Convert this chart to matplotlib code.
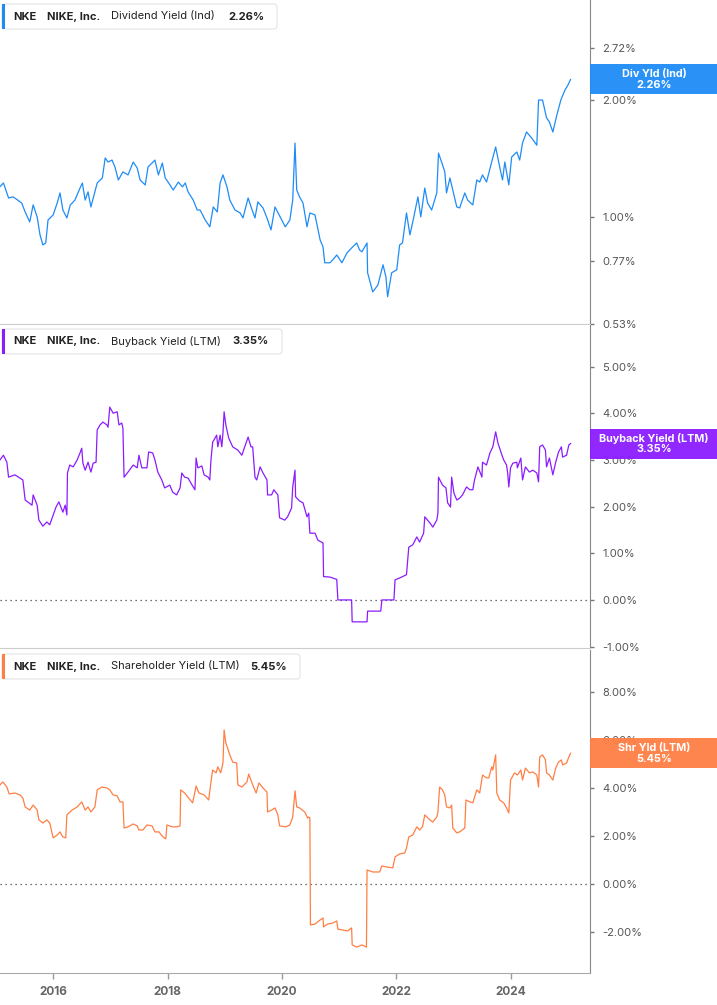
import matplotlib.pyplot as plt
import matplotlib.transforms as mtransforms
from matplotlib.patches import FancyBboxPatch, Rectangle
from matplotlib.ticker import FixedLocator, NullLocator, FuncFormatter

plt.rcParams['font.family'] = ['Inter', 'DejaVu Sans']

# ---- data (decimal year, yield in %) ----
div_dates = [2015.07, 2015.13, 2015.19, 2015.22, 2015.30, 2015.38, 2015.45, 2015.51, 2015.59, 2015.65,
             2015.72, 2015.77, 2015.82, 2015.87, 2015.91, 2016.00, 2016.07, 2016.12, 2016.17, 2016.24,
             2016.30, 2016.38, 2016.47, 2016.51, 2016.56, 2016.61, 2016.66, 2016.73, 2016.77, 2016.86,
             2016.91, 2016.96, 2017.03, 2017.08, 2017.14, 2017.22, 2017.31, 2017.40, 2017.47, 2017.52,
             2017.61, 2017.66, 2017.78, 2017.84, 2017.91, 2017.96, 2018.01, 2018.10, 2018.19, 2018.26,
             2018.31, 2018.36, 2018.45, 2018.52, 2018.57, 2018.66, 2018.74, 2018.80, 2018.87, 2018.92,
             2018.97, 2019.04, 2019.09, 2019.18, 2019.27, 2019.32, 2019.41, 2019.48, 2019.53, 2019.58,
             2019.67, 2019.74, 2019.81, 2019.88, 2019.97, 2020.06, 2020.14, 2020.19, 2020.23, 2020.26,
             2020.31, 2020.37, 2020.44, 2020.49, 2020.58, 2020.67, 2020.72, 2020.75, 2020.84, 2020.89,
             2020.96, 2021.05, 2021.14, 2021.22, 2021.31, 2021.36, 2021.40, 2021.49, 2021.50, 2021.59,
             2021.68, 2021.77, 2021.82, 2021.85, 2021.92, 2022.01, 2022.06, 2022.11, 2022.18, 2022.24,
             2022.29, 2022.38, 2022.43, 2022.50, 2022.55, 2022.62, 2022.71, 2022.74, 2022.80, 2022.85,
             2022.88, 2022.94, 2022.99, 2023.06, 2023.11, 2023.20, 2023.25, 2023.34, 2023.41, 2023.46,
             2023.51, 2023.58, 2023.67, 2023.74, 2023.81, 2023.86, 2023.90, 2023.97, 2024.02, 2024.11,
             2024.16, 2024.21, 2024.28, 2024.37, 2024.46, 2024.49, 2024.56, 2024.63, 2024.68, 2024.74,
             2024.81, 2024.88, 2024.95, 2025.00, 2025.05]
div_yld = [1.197, 1.223, 1.153, 1.119, 1.126, 1.105, 1.086, 1.030, 0.971, 1.074,
           1.000, 0.899, 0.847, 0.857, 0.982, 1.012, 1.086, 1.153, 1.042, 0.994,
           1.074, 1.105, 1.187, 1.223, 1.105, 1.160, 1.061, 1.160, 1.223, 1.260,
           1.419, 1.385, 1.401, 1.345, 1.245, 1.306, 1.283, 1.385, 1.337, 1.245,
           1.209, 1.345, 1.401, 1.283, 1.377, 1.260, 1.230, 1.173, 1.230, 1.195,
           1.223, 1.160, 1.105, 1.042, 1.042, 0.982, 0.943, 1.061, 1.030, 1.223,
           1.283, 1.195, 1.105, 1.042, 1.024, 0.994, 1.119, 1.042, 0.994, 1.093,
           1.055, 0.994, 0.926, 1.061, 1.000, 0.943, 0.982, 1.105, 1.550, 1.173,
           1.126, 1.086, 0.943, 1.024, 1.012, 0.872, 0.837, 0.762, 0.762, 0.775,
           0.798, 0.762, 0.808, 0.832, 0.857, 0.822, 0.813, 0.857, 0.718, 0.641,
           0.668, 0.753, 0.701, 0.623, 0.718, 0.731, 0.847, 0.857, 1.024, 0.899,
           0.971, 1.126, 1.000, 1.187, 1.086, 1.042, 1.153, 1.460, 1.377, 1.306,
           1.153, 1.260, 1.173, 1.061, 1.055, 1.153, 1.105, 1.074, 1.245, 1.230,
           1.283, 1.230, 1.385, 1.514, 1.345, 1.245, 1.385, 1.209, 1.427, 1.470,
           1.401, 1.550, 1.655, 1.597, 1.530, 2.000, 2.000, 1.800, 1.756, 1.655,
           1.830, 2.000, 2.120, 2.180, 2.260]

bb_dates = [2015.07, 2015.13, 2015.19, 2015.22, 2015.33, 2015.42, 2015.47, 2015.51, 2015.63, 2015.65,
            2015.72, 2015.75, 2015.82, 2015.89, 2015.94, 2016.00, 2016.05, 2016.10, 2016.17, 2016.21,
            2016.24, 2016.25, 2016.29, 2016.35, 2016.42, 2016.47, 2016.50, 2016.52, 2016.56, 2016.61,
            2016.66, 2016.70, 2016.75, 2016.77, 2016.82, 2016.87, 2016.94, 2016.96, 2016.99, 2017.05,
            2017.12, 2017.15, 2017.20, 2017.22, 2017.24, 2017.31, 2017.40, 2017.47, 2017.50, 2017.55,
            2017.64, 2017.67, 2017.74, 2017.78, 2017.83, 2017.90, 2017.95, 2018.04, 2018.09, 2018.16,
            2018.22, 2018.25, 2018.30, 2018.36, 2018.43, 2018.48, 2018.50, 2018.53, 2018.60, 2018.64,
            2018.71, 2018.74, 2018.76, 2018.79, 2018.86, 2018.88, 2018.92, 2018.95, 2018.97, 2018.99,
            2019.02, 2019.07, 2019.14, 2019.23, 2019.30, 2019.35, 2019.41, 2019.46, 2019.49, 2019.53,
            2019.56, 2019.62, 2019.67, 2019.74, 2019.75, 2019.82, 2019.86, 2019.93, 2019.96, 2020.05,
            2020.10, 2020.17, 2020.19, 2020.23, 2020.24, 2020.31, 2020.37, 2020.44, 2020.47, 2020.49,
            2020.58, 2020.63, 2020.72, 2020.73, 2020.84, 2020.96, 2020.98, 2021.22, 2021.23, 2021.49,
            2021.50, 2021.73, 2021.75, 2021.96, 2021.98, 2022.06, 2022.18, 2022.22, 2022.29, 2022.36,
            2022.41, 2022.48, 2022.50, 2022.59, 2022.64, 2022.71, 2022.73, 2022.74, 2022.81, 2022.87,
            2022.90, 2022.95, 2022.97, 2023.01, 2023.06, 2023.11, 2023.16, 2023.23, 2023.29, 2023.34,
            2023.37, 2023.43, 2023.50, 2023.51, 2023.58, 2023.64, 2023.69, 2023.74, 2023.78, 2023.85,
            2023.88, 2023.93, 2023.95, 2023.97, 2024.00, 2024.04, 2024.11, 2024.12, 2024.18, 2024.21,
            2024.26, 2024.33, 2024.39, 2024.46, 2024.49, 2024.51, 2024.56, 2024.61, 2024.63, 2024.68,
            2024.74, 2024.79, 2024.84, 2024.89, 2024.91, 2024.98, 2025.02, 2025.05]
bb_yld = [3.00, 3.10, 2.95, 2.63, 2.68, 2.61, 2.57, 2.14, 2.03, 2.25,
          2.03, 1.71, 1.58, 1.67, 1.61, 1.82, 1.99, 2.10, 1.88, 2.03,
          1.82, 2.72, 2.89, 2.85, 3.00, 3.15, 3.25, 2.93, 2.78, 2.95,
          2.74, 2.93, 2.95, 3.64, 3.75, 3.81, 3.75, 3.70, 4.13, 4.00,
          4.03, 3.75, 3.79, 3.68, 2.63, 2.74, 2.89, 2.83, 3.10, 2.83,
          2.83, 3.17, 3.15, 3.00, 2.74, 2.57, 2.40, 2.46, 2.31, 2.25,
          2.40, 2.72, 2.63, 2.61, 2.46, 2.36, 3.04, 2.83, 2.87, 2.68,
          2.63, 2.57, 3.00, 3.38, 3.53, 3.28, 3.53, 3.28, 3.58, 4.03,
          3.75, 3.47, 3.28, 3.21, 3.10, 3.28, 3.49, 3.28, 3.28, 2.63,
          2.57, 2.85, 2.72, 2.57, 2.25, 2.25, 2.36, 2.25, 1.76, 1.71,
          1.78, 1.97, 2.42, 2.78, 2.21, 2.12, 2.08, 1.78, 1.86, 1.43,
          1.43, 1.28, 1.22, 0.50, 0.49, 0.44, 0.00, 0.00, -0.47, -0.47,
          -0.24, -0.24, 0.00, 0.00, 0.43, 0.47, 0.54, 1.13, 1.18, 1.35,
          1.24, 1.43, 1.78, 1.65, 1.56, 1.71, 1.86, 2.63, 2.46, 2.40,
          2.08, 1.99, 2.63, 2.29, 2.14, 2.18, 2.25, 2.42, 2.36, 2.36,
          2.57, 2.85, 2.63, 2.95, 2.89, 3.15, 3.28, 3.60, 3.36, 3.10,
          3.00, 2.89, 2.72, 2.42, 2.83, 2.93, 2.95, 2.83, 3.04, 2.57,
          2.85, 2.74, 2.78, 2.72, 2.53, 3.28, 3.32, 3.21, 2.85, 3.04,
          2.68, 2.95, 3.17, 3.28, 3.06, 3.10, 3.32, 3.35]

shr_dates = [2015.07, 2015.12, 2015.19, 2015.23, 2015.33, 2015.42, 2015.47, 2015.51, 2015.59, 2015.65,
             2015.72, 2015.75, 2015.82, 2015.89, 2015.94, 2016.00, 2016.07, 2016.12, 2016.17, 2016.22,
             2016.24, 2016.33, 2016.42, 2016.50, 2016.56, 2016.61, 2016.66, 2016.73, 2016.77, 2016.85,
             2016.94, 2016.99, 2017.05, 2017.12, 2017.17, 2017.22, 2017.24, 2017.31, 2017.40, 2017.47,
             2017.50, 2017.57, 2017.64, 2017.73, 2017.78, 2017.85, 2017.92, 2017.97, 2017.99, 2018.08,
             2018.16, 2018.22, 2018.23, 2018.30, 2018.37, 2018.44, 2018.50, 2018.55, 2018.64, 2018.72,
             2018.76, 2018.79, 2018.85, 2018.88, 2018.93, 2018.97, 2018.99, 2019.02, 2019.09, 2019.14,
             2019.21, 2019.23, 2019.30, 2019.39, 2019.42, 2019.49, 2019.55, 2019.60, 2019.67, 2019.74,
             2019.75, 2019.82, 2019.88, 2019.93, 2019.96, 2020.07, 2020.14, 2020.19, 2020.23, 2020.26,
             2020.31, 2020.40, 2020.45, 2020.47, 2020.49, 2020.50, 2020.58, 2020.67, 2020.72, 2020.73,
             2020.80, 2020.89, 2020.96, 2020.98, 2021.07, 2021.15, 2021.22, 2021.23, 2021.31, 2021.40,
             2021.48, 2021.49, 2021.59, 2021.71, 2021.75, 2021.83, 2021.94, 2021.98, 2022.06, 2022.15,
             2022.18, 2022.22, 2022.29, 2022.36, 2022.41, 2022.46, 2022.50, 2022.59, 2022.64, 2022.71,
             2022.73, 2022.76, 2022.81, 2022.85, 2022.88, 2022.94, 2022.97, 2022.99, 2023.06, 2023.11,
             2023.20, 2023.22, 2023.29, 2023.34, 2023.41, 2023.46, 2023.51, 2023.58, 2023.62, 2023.67,
             2023.69, 2023.74, 2023.76, 2023.81, 2023.88, 2023.93, 2023.97, 2024.00, 2024.07, 2024.12,
             2024.18, 2024.21, 2024.26, 2024.33, 2024.39, 2024.46, 2024.49, 2024.51, 2024.56, 2024.61,
             2024.63, 2024.68, 2024.74, 2024.79, 2024.84, 2024.89, 2024.91, 2024.98, 2025.02, 2025.05]
shr_yld = [4.13, 4.25, 4.04, 3.75, 3.79, 3.71, 3.58, 3.21, 3.08, 3.29,
           3.08, 2.67, 2.54, 2.67, 2.54, 1.92, 2.04, 2.17, 1.96, 1.92,
           2.88, 3.08, 3.21, 3.42, 3.08, 3.21, 3.00, 3.21, 3.92, 4.04,
           4.00, 3.92, 3.71, 3.67, 3.42, 3.42, 2.33, 2.38, 2.50, 2.42,
           2.25, 2.25, 2.46, 2.42, 2.17, 2.17, 1.96, 1.88, 2.46, 2.38,
           2.38, 2.42, 3.92, 3.79, 3.58, 3.38, 4.08, 3.79, 3.71, 3.50,
           4.25, 4.75, 4.63, 4.88, 4.63, 5.04, 6.42, 5.88, 5.38, 5.08,
           5.04, 4.13, 4.04, 4.25, 4.58, 4.13, 3.79, 4.21, 4.00, 3.83,
           3.00, 3.08, 3.17, 2.88, 2.42, 2.38, 2.46, 2.79, 3.88, 3.21,
           3.17, 3.00, 2.75, 2.79, 2.75, -1.71, -1.67, -1.50, -1.42, -1.79,
           -1.67, -1.63, -1.54, -1.88, -1.92, -1.96, -1.83, -2.54, -2.63, -2.54,
           -2.63, 0.58, 0.50, 0.50, 0.75, 0.71, 0.67, 1.13, 1.25, 1.29,
           1.50, 1.96, 2.04, 2.38, 2.25, 2.38, 2.88, 2.67, 2.58, 2.79,
           3.00, 4.04, 3.92, 3.71, 3.21, 3.17, 3.29, 2.33, 2.13, 2.17,
           2.33, 3.50, 3.42, 3.38, 3.92, 3.79, 4.54, 4.42, 4.42, 4.88,
           4.75, 5.38, 3.79, 3.50, 3.38, 3.17, 2.96, 4.33, 4.63, 4.54,
           4.75, 4.33, 4.83, 4.63, 4.67, 4.54, 4.04, 5.29, 5.38, 5.17,
           4.63, 4.54, 4.33, 4.83, 5.08, 5.17, 4.96, 5.04, 5.29, 5.45]

year_ticks = [2016, 2018, 2020, 2022, 2024]

panels = [
    dict(dates=div_dates, vals=div_yld, color='#1e8cf7', metric='Dividend Yield (Ind)',
         tag='Div Yld (Ind)', ticks=[0.53, 0.77, 1.00, 2.00, 2.72], ylim=(0.53, 3.62), log=True,
         val_x=228, box_r=277),
    dict(dates=bb_dates, vals=bb_yld, color='#8b1cff', metric='Buyback Yield (LTM)',
         tag='Buyback Yield (LTM)', ticks=[-1, 0, 1, 2, 3, 4, 5], ylim=(-1.03, 5.89), log=False,
         val_x=232, box_r=282),
    dict(dates=shr_dates, vals=shr_yld, color='#ff7f45', metric='Shareholder Yield (LTM)',
         tag='Shr Yld (LTM)', ticks=[-2, 0, 2, 4, 6, 8], ylim=(-3.71, 9.75), log=False,
         val_x=250, box_r=300),
]

W, H = 717, 1005
fig = plt.figure(figsize=(W / 100, H / 100), dpi=100)
# pixel coords, origin top-left
pix = mtransforms.Affine2D().scale(1 / W, -1 / H).translate(0, 1) + fig.transFigure

rows = [(0, 324), (325, 648), (650, 973)]
axes = []
for (top, bot), p in zip(rows, panels):
    ax = fig.add_axes([0, 1 - bot / H, 590 / W, (bot - top) / H])
    axes.append(ax)
    ax.plot(p['dates'], p['vals'], color=p['color'], lw=0.9)
    if p['log']:
        ax.set_yscale('log')
    ax.set_ylim(*p['ylim'])
    ax.yaxis.set_major_locator(FixedLocator(p['ticks']))
    ax.yaxis.set_minor_locator(NullLocator())
    ax.yaxis.set_major_formatter(FuncFormatter(lambda v, pos: '%.2f%%' % v))
    ax.yaxis.tick_right()
    ax.tick_params(axis='y', direction='out', length=3, width=1, color='#777',
                   labelsize=8, labelcolor='#555', pad=6)
    ax.set_xlim(2015.07, 2025.39)
    for s in ['top', 'left']:
        ax.spines[s].set_visible(False)
    ax.spines['right'].set_color('#888')
    ax.spines['bottom'].set_color('#cccccc')
    if not p['log']:
        ax.axhline(0, color='#444', lw=0.9, ls=(0, (1, 3)), zorder=0)

    # legend box at the top left
    fig.add_artist(FancyBboxPatch((2, top + 4), p['box_r'] - 2, 25, transform=pix,
                                  boxstyle='round,pad=0,rounding_size=3',
                                  fc='white', ec='#e3e3e3', lw=0.8))
    fig.add_artist(Rectangle((2, top + 4), 3, 25, transform=pix, fc=p['color'], ec='none'))
    yc = top + 16.5
    fig.text(13, yc, 'NKE', transform=pix, fontsize=8, fontweight='bold', color='#222', va='center')
    fig.text(47, yc, 'NIKE, Inc.', transform=pix, fontsize=8, fontweight='bold', color='#222', va='center')
    fig.text(111, yc, p['metric'], transform=pix, fontsize=8, color='#222', va='center')
    fig.text(p['val_x'], yc, '%.2f%%' % p['vals'][-1], transform=pix, fontsize=8,
             fontweight='bold', color='#222', va='center')

    # value tag on the right axis, placed at the last value
    ty = pix.inverted().transform(ax.transData.transform((p['dates'][-1], p['vals'][-1])))[1]
    fig.add_artist(Rectangle((590, ty - 15), W - 590, 30, transform=pix, fc=p['color'],
                             ec='none', alpha=0.95))
    fig.text(654, ty - 5.5, p['tag'], transform=pix, fontsize=7.8, fontweight='bold',
             color='white', ha='center', va='center')
    fig.text(654, ty + 5.5, '%.2f%%' % p['vals'][-1], transform=pix, fontsize=7.8,
             fontweight='bold', color='white', ha='center', va='center')

for ax in axes[:2]:
    ax.tick_params(axis='x', bottom=False, labelbottom=False)
ax3 = axes[2]
ax3.spines['bottom'].set_color('#aaaaaa')
ax3.set_xticks(year_ticks)
ax3.set_xticklabels([str(y) for y in year_ticks])
ax3.tick_params(axis='x', direction='out', length=4, width=1, color='#999',
                labelsize=8.5, labelcolor='#666', pad=5)
for lbl in ax3.get_xticklabels():
    lbl.set_fontweight('bold')

fig.savefig('out.png', dpi=100)
